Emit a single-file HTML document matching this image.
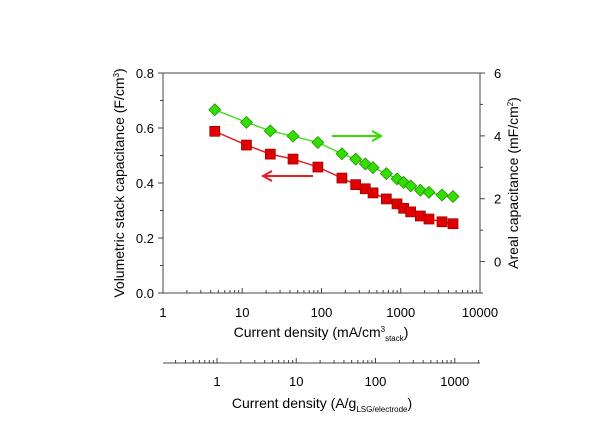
<!DOCTYPE html>
<html><head><meta charset="utf-8"><style>body{margin:0;background:#fff}svg{display:block;font-family:"Liberation Sans",sans-serif}</style></head>
<body>
<svg id="c" width="615" height="435" xmlns="http://www.w3.org/2000/svg"></svg>
<script>
const xVals=[4.5,11.3,22.6,43.7,90,181,270,357,447,658,897,1088,1334,1767,2270,3315,4565];
const volCap=[0.588,0.538,0.505,0.487,0.458,0.418,0.394,0.379,0.364,0.342,0.324,0.308,0.295,0.28,0.269,0.259,0.252];
const arealCap=[4.83,4.43,4.16,3.99,3.79,3.43,3.26,3.11,2.99,2.80,2.63,2.52,2.41,2.27,2.20,2.12,2.07];
const leftTicks=[0,0.2,0.4,0.6,0.8];
const rightTicks=[0,2,4,6];
const xTicks=[1,10,100,1000,10000];
const x2Ticks=[1,10,100,1000];
const NS="http://www.w3.org/2000/svg",svg=document.getElementById('c');
const L=163,R=480,T=73,B=293,AX='#444';
const sx=v=>L+(R-L)*Math.log10(v)/4;
const syL=v=>B-(B-T)*v/0.8;
const syR=v=>B-(B-T)*(v+1)/7;
const sx2=v=>217+79.25*Math.log10(v);
function el(t,a,p){const e=document.createElementNS(NS,t);for(const k in a)e.setAttribute(k,a[k]);(p||svg).appendChild(e);return e;}
function txt(s,x,y,a,p){const e=el('text',Object.assign({x:x,y:y,'font-size':13,fill:'#000'},a||{}),p);e.innerHTML=s;return e;}
let g=el('g',{});

el('rect',{x:L,y:T,width:R-L,height:B-T,fill:'none',stroke:AX,'stroke-width':1},g);
let ga=el('g',{});
leftTicks.forEach(v=>{el('line',{x1:L-5,x2:L,y1:syL(v),y2:syL(v),stroke:AX},ga);txt(v.toFixed(1),L-9,syL(v)+5,{'text-anchor':'end'},ga);});
for(let v=0.1;v<0.8;v+=0.2)el('line',{x1:L-3,x2:L,y1:syL(v),y2:syL(v),stroke:AX},ga);
let gr=el('g',{});
rightTicks.forEach(v=>{el('line',{x1:R,x2:R+5,y1:syR(v),y2:syR(v),stroke:AX},gr);txt(String(v),R+14,syR(v)+5,{},gr);});
for(let v=-1;v<6;v+=2)el('line',{x1:R,x2:R+3,y1:syR(v),y2:syR(v),stroke:AX},gr);
let gx=el('g',{});
xTicks.forEach(v=>{el('line',{x1:sx(v),x2:sx(v),y1:B,y2:B-5,stroke:AX},gx);txt(String(v),sx(v),B+24,{'text-anchor':'middle'},gx);});
for(let d=1;d<10000;d*=10)for(let m=2;m<10;m++)el('line',{x1:sx(d*m),x2:sx(d*m),y1:B,y2:B-3,stroke:AX},gx);
let gx2=el('g',{});
el('line',{x1:L,x2:R,y1:363,y2:363,stroke:AX},gx2);
x2Ticks.forEach(v=>{el('line',{x1:sx2(v),x2:sx2(v),y1:363,y2:358,stroke:AX},gx2);txt(String(v),sx2(v),386,{'text-anchor':'middle'},gx2);});
for(let d=0.1;d<2000;d*=10)for(let m=2;m<10;m++){const x=sx2(d*m);if(x>L&&x<R)el('line',{x1:x,x2:x,y1:363,y2:360,stroke:AX},gx2);}
let t;
t=txt('Current density (mA/cm<tspan dy="-5" font-size="8">3</tspan><tspan dy="9" font-size="8">stack</tspan><tspan dy="-4">)</tspan>',321,337,{'text-anchor':'middle','font-size':14});
t=txt('Current density (A/g<tspan dy="4" font-size="8">LSG/electrode</tspan><tspan dy="-4">)</tspan>',322,408,{'text-anchor':'middle','font-size':14});
t=txt('Volumetric stack capacitance (F/cm<tspan dy="-5" font-size="8">3</tspan><tspan dy="5">)</tspan>',0,0,{'text-anchor':'middle','font-size':14,transform:'translate(124,183) rotate(-90)'});
t=txt('Areal capacitance (mF/cm<tspan dy="-5" font-size="8">2</tspan><tspan dy="5">)</tspan>',0,0,{'text-anchor':'middle','font-size':14,transform:'translate(518,183) rotate(-90)'});
let gs=el('g',{});
el('polyline',{points:xVals.map((x,i)=>sx(x)+','+syR(arealCap[i])).join(' '),fill:'none',stroke:'#44e020','stroke-width':1.5},gs);
xVals.forEach((x,i)=>{const cx=sx(x),cy=syR(arealCap[i]);const p=el('polygon',{points:`${cx},${cy-6} ${cx+6},${cy} ${cx},${cy+6} ${cx-6},${cy}`,fill:'#33dd00',stroke:'#1a8a00','stroke-width':0.7},gs);});
let gv=el('g',{});
el('polyline',{points:xVals.map((x,i)=>sx(x)+','+syL(volCap[i])).join(' '),fill:'none',stroke:'#e02020','stroke-width':1.5},gv);
xVals.forEach((x,i)=>{const cx=sx(x),cy=syL(volCap[i]);const p=el('rect',{x:cx-5,y:cy-5,width:10,height:10,fill:'#e00000',stroke:'#900','stroke-width':0.7},gv);});
let a1=el('g',{});
el('line',{x1:332,x2:380,y1:136,y2:136,stroke:'#33dd00','stroke-width':2},a1);
el('polyline',{points:'372,131 381,136 372,141',fill:'none',stroke:'#33dd00','stroke-width':2},a1);
let a2=el('g',{});
el('line',{x1:313,x2:264,y1:176,y2:176,stroke:'#e02020','stroke-width':2},a2);
el('polyline',{points:'272,171 263,176 272,181',fill:'none',stroke:'#e02020','stroke-width':2},a2);
</script>
</body></html>
